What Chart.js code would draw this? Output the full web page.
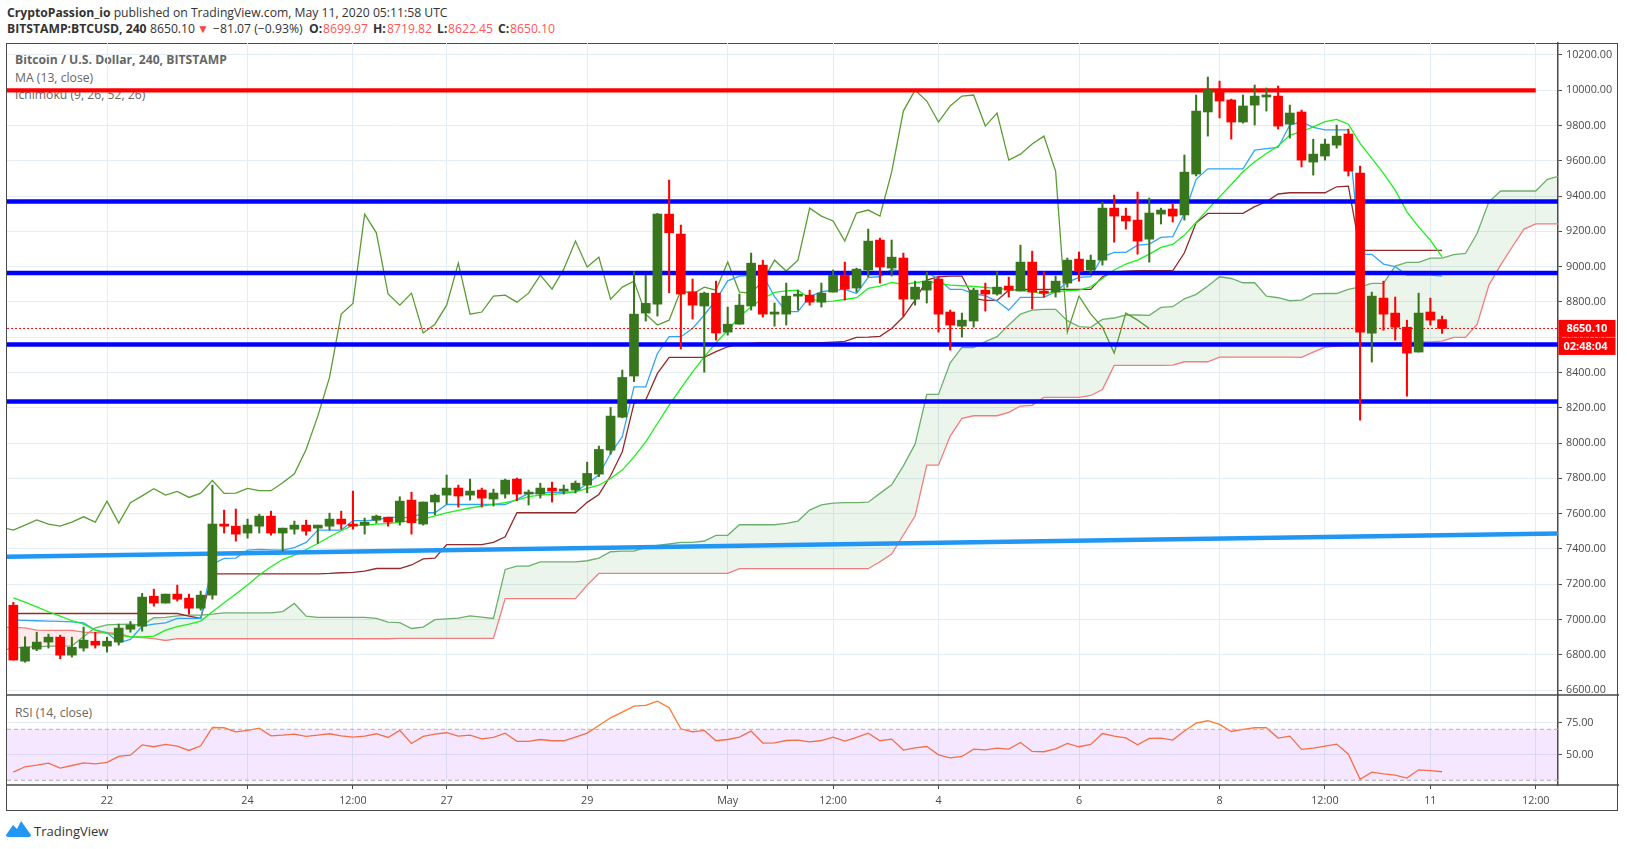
<!DOCTYPE html>
<html>
<head>
<meta charset="utf-8">
<title>BTCUSD 240</title>
<script src="https://cdn.jsdelivr.net/npm/chart.js@4"></script>
<style>
  html, body { margin: 0; padding: 0; background: #fff; width: 1627px; height: 849px; overflow: hidden; }
  body { font-family: "Open Sans", sans-serif; }
  canvas { position: absolute; left: 0; top: 0; z-index: 2; }
  .frame { position: absolute; left: 6px; top: 43px; width: 1610px; height: 766px; border: 1.5px solid #4a4a4a; }
  .t { position: absolute; white-space: nowrap; font-size: 12.2px; line-height: 16px; color: #333; }
  .b { font-weight: 700; }
  .r { color: #f55; }
  .g { color: #666; }
</style>
</head>
<body>
<div class="frame"></div>

<div class="t" style="left:7px;top:5px"><span class="b">CryptoPassion_io</span> published on TradingView.com, May 11, 2020 05:11:58 UTC</div>
<div class="t b" style="left:7px;top:21px">BITSTAMP:BTCUSD, 240</div>
<div class="t" style="left:150px;top:21px">8650.10</div>
<div class="t" style="left:197px;top:21px;color:#f44;font-size:12px">▼</div>
<div class="t" style="left:213px;top:21px">−81.07 (−0.93%)</div>
<div class="t b" style="left:309px;top:21px">O:</div><div class="t r" style="left:323px;top:21px">8699.97</div>
<div class="t b" style="left:373px;top:21px">H:</div><div class="t r" style="left:387px;top:21px">8719.82</div>
<div class="t b" style="left:437px;top:21px">L:</div><div class="t r" style="left:448px;top:21px">8622.45</div>
<div class="t b" style="left:498px;top:21px">C:</div><div class="t r" style="left:510px;top:21px">8650.10</div>

<div class="t b g" style="left:15px;top:52px">Bitcoin / U.S. Dollar, 240, BITSTAMP</div>
<div class="t g" style="left:15px;top:70px">MA (13, close)</div>
<div class="t g" style="left:15px;top:87px">Ichimoku (9, 26, 52, 26)</div>
<div class="t g" style="left:15px;top:705px">RSI (14, close)</div>

<svg style="position:absolute;left:6px;top:820px" width="26" height="18" viewBox="0 0 26 18">
  <path d="M0 15 L7 5 L11 9 L15 1 L25 15 Q25 17 23 17 L2 17 Q0 17 0 15 Z" fill="#2196f3"/>
</svg>
<div class="t" style="left:34px;top:823px;color:#333;font-size:13px">TradingView</div>

<canvas id="chart-price" width="1627" height="849"></canvas>
<canvas id="chart-rsi" width="1627" height="849"></canvas>

<script>
/* Candles, one per 4h bar, index = position on the time axis */
const candleOpen = [
  7081,6764,6832,6872,6900,6798,6838,6877,6849,6872,
  6945,6962,7132,7093,7144,7121,7064,7138,7541,7529,
  7490,7529,7586,7490,7512,7535,7518,7529,7569,7541,
  7535,7563,7580,7554,7677,7541,7666,7705,7745,7705,
  7734,7683,7711,7796,7711,7711,7745,7728,7734,7762,
  7824,7960,8147,8380,8737,8788,9298,9185,8858,8777,
  8850,8629,8674,8777,9009,8731,8731,8833,8839,8799,
  8856,8952,8879,8981,9151,8992,9049,8816,8867,8930,
  8743,8663,8692,8867,8845,8890,8862,9026,8862,8856,
  8907,9043,8981,9037,9332,9287,9264,9156,9298,9327,
  9293,9525,9877,9990,9945,9820,9916,9962,9967,9808,
  9877,9593,9627,9689,9752,9531,8623,8822,8737,8657,
  8516,8743,8700];
const candleClose = [
  6770,6843,6872,6900,6798,6843,6883,6855,6877,6951,
  6968,7127,7093,7144,7115,7064,7138,7541,7529,7484,
  7535,7586,7490,7518,7535,7501,7535,7569,7541,7529,
  7552,7586,7552,7671,7548,7666,7705,7745,7700,7728,
  7688,7717,7790,7711,7722,7745,7728,7734,7773,7828,
  7964,8153,8372,8731,8792,9298,9192,8845,8782,8850,
  8624,8674,8782,9020,8731,8743,8833,8839,8799,8850,
  8952,8873,8986,9145,8998,9054,8816,8884,8918,8731,
  8669,8697,8867,8845,8884,8867,9026,8856,8850,8918,
  9037,8975,9037,9332,9287,9259,9145,9304,9321,9287,
  9536,9882,10001,9939,9820,9911,9967,9973,9797,9871,
  9604,9638,9695,9740,9542,8629,8833,8731,8657,8510,
  8737,8697,8650];
const candleHigh = [
  7097,6902,6928,6917,6911,6900,6957,6928,6900,6974,
  6989,7148,7172,7144,7195,7144,7161,7762,7620,7626,
  7569,7597,7614,7518,7558,7563,7535,7603,7614,7728,
  7575,7592,7580,7696,7722,7666,7711,7819,7762,7796,
  7745,7739,7796,7802,7734,7773,7779,7762,7785,7892,
  7983,8202,8414,8971,8952,9302,9491,9236,8930,8856,
  8918,8771,8845,9077,9037,8794,8907,8867,8867,8907,
  8981,9026,8992,9213,9162,9151,9077,8918,8969,8943,
  8754,8737,8879,8907,8971,8941,9122,9088,8971,8947,
  9049,9083,9066,9366,9406,9332,9423,9389,9332,9355,
  9633,9973,10075,10052,9950,9973,10030,10013,10024,9916,
  9888,9723,9723,9803,9780,9570,8856,8918,8828,8697,
  8850,8822,8720];
const candleLow = [
  6770,6758,6823,6838,6777,6787,6821,6838,6815,6855,
  6928,6934,7076,7093,7104,7030,7053,7115,7490,7444,
  7461,7490,7478,7388,7484,7478,7431,7507,7512,7512,
  7484,7546,7529,7535,7484,7535,7594,7654,7637,7677,
  7637,7643,7688,7673,7649,7688,7666,7711,7717,7718,
  7810,7937,8143,8348,8692,8720,8852,8533,8703,8402,
  8584,8612,8674,8754,8714,8663,8669,8754,8782,8771,
  8856,8811,8856,8943,8907,8947,8720,8782,8794,8629,
  8527,8601,8657,8748,8839,8828,8862,8760,8828,8828,
  8884,8918,8964,9009,9139,9213,9071,9026,9242,9253,
  9264,9514,9740,9843,9723,9814,9803,9882,9780,9729,
  9565,9519,9604,9672,9514,8130,8459,8640,8584,8266,
  8516,8669,8622];

/* MA 13, from the first candle */
const maValues = [
  7123,7098,7072,7044,7019,6993,6974,6940,6921,6911,
  6902,6902,6906,6940,6959,6974,6991,7044,7095,7144,
  7195,7252,7299,7340,7365,7397,7431,7469,7503,7533,
  7535,7541,7544,7552,7560,7569,7588,7605,7618,7632,
  7643,7652,7662,7677,7696,7705,7709,7715,7724,7743,
  7761,7799,7847,7922,8007,8111,8215,8310,8404,8489,
  8569,8640,8716,8773,8820,8854,8863,8867,8820,8801,
  8805,8814,8824,8877,8890,8911,8899,8909,8920,8905,
  8896,8892,8888,8882,8877,8871,8867,8858,8845,8858,
  8864,8867,8886,8933,8981,9015,9037,9071,9109,9126,
  9179,9251,9325,9396,9466,9538,9595,9642,9684,9746,
  9765,9793,9822,9835,9808,9699,9614,9529,9434,9311,
  9226,9151,9055];

/* Ichimoku conversion and base lines, from the first candle */
const conversionLine = [
  6996,6995,6993,6991,6989,6987,6981,6940,6926,6868,
  6887,6962,6974,6981,7006,7006,7006,7314,7346,7348,
  7393,7397,7395,7393,7408,7437,7507,7507,7507,7560,
  7560,7563,7579,7579,7577,7605,7605,7652,7652,7652,
  7652,7652,7652,7681,7715,7718,7720,7722,7724,7770,
  7820,7941,8036,8319,8319,8508,8603,8603,8650,8726,
  8811,8920,8947,8952,8952,8830,8745,8745,8830,8858,
  8867,8871,8848,8939,8943,8984,8971,8971,8971,8928,
  8871,8871,8848,8835,8805,8754,8826,8826,8826,8858,
  8911,8939,8943,9056,9081,9081,9122,9128,9166,9170,
  9302,9495,9555,9555,9555,9555,9661,9669,9676,9803,
  9822,9790,9775,9775,9775,9070,9070,9015,9000,8952,
  8952,8952,8947];
const baseLine = [
  7034,7034,7034,7034,7034,7034,7034,7034,7034,7034,
  7034,7034,7034,7034,7034,7019,7006,7259,7259,7259,
  7259,7259,7259,7259,7259,7259,7259,7261,7265,7267,
  7274,7289,7289,7289,7309,7344,7348,7424,7424,7424,
  7424,7437,7469,7605,7605,7605,7605,7605,7605,7664,
  7709,7815,7951,8225,8244,8395,8486,8486,8486,8486,
  8518,8546,8561,8565,8569,8569,8569,8569,8569,8569,
  8572,8576,8599,8601,8605,8650,8716,8811,8924,8943,
  8947,8947,8820,8809,8809,8867,8871,8871,8871,8871,
  8871,8871,8871,8943,8971,8975,8977,8977,8977,8977,
  9079,9249,9302,9302,9302,9302,9340,9368,9412,9419,
  9419,9419,9419,9453,9457,9092,9092,9092,9092,9092,
  9092,9092,9092];

/* These three start one bar left of the first candle (index -1) */
const laggingSpan = [
  7522,
  7507,7535,7565,7541,7529,7552,7582,7552,7671,7546,
  7662,7701,7741,7705,7726,7692,7716,7788,7715,7716,
  7743,7730,7730,7775,7826,7964,8153,8372,8731,8792,
  9298,9192,8845,8782,8850,8624,8674,8782,9020,8731,
  8743,8833,8839,8799,8850,8952,8873,8986,9145,8998,
  9054,8816,8884,8918,8731,8669,8697,8867,8845,8884,
  8867,9026,8856,8850,8918,9037,8975,9037,9332,9287,
  9259,9145,9304,9321,9287,9536,9882,10001,9939,9820,
  9911,9967,9973,9797,9871,9604,9638,9695,9740,9542,
  8629,8833,8731,8657,8510,8737,8697,8650];
const leadingSpanA = [
  6826,
  6836,6845,6845,6849,6849,6851,6902,6953,6970,6972,
  6974,6968,7010,7012,7021,7025,7025,7030,7038,7038,
  7038,7038,7038,7045,7091,7019,7012,7012,7012,7012,
  7012,7006,6985,6982,6949,6957,6999,7004,7008,7021,
  7014,7006,7284,7303,7303,7327,7327,7327,7327,7333,
  7348,7384,7388,7388,7409,7420,7428,7437,7437,7445,
  7477,7477,7537,7537,7537,7537,7545,7558,7620,7650,
  7660,7662,7662,7665,7715,7764,7871,7994,8276,8276,
  8455,8542,8542,8575,8603,8669,8731,8754,8758,8758,
  8694,8660,8656,8701,8709,8726,8726,8724,8769,8773,
  8818,8843,8890,8943,8933,8909,8909,8833,8824,8807,
  8811,8846,8848,8848,8871,8886,8905,8905,9003,9024,
  9024,9049,9049,9068,9075,9189,9368,9429,9429,9429,
  9429,9495,9514];
const leadingSpanB = [
  6955,
  6955,6953,6940,6938,6938,6938,6928,6925,6925,6921,
  6902,6898,6891,6881,6891,6891,6891,6891,6891,6891,
  6891,6891,6891,6891,6891,6891,6891,6891,6891,6891,
  6891,6891,6891,6893,6893,6893,6893,6893,6893,6893,
  6893,6893,7118,7118,7118,7118,7118,7118,7118,7195,
  7261,7261,7261,7261,7261,7261,7261,7261,7261,7261,
  7261,7261,7288,7288,7288,7288,7288,7288,7288,7288,
  7288,7288,7288,7288,7327,7371,7479,7586,7875,7875,
  8040,8140,8155,8155,8155,8174,8210,8214,8259,8259,
  8259,8259,8270,8304,8440,8440,8440,8440,8440,8442,
  8461,8461,8461,8487,8487,8487,8487,8487,8487,8487,
  8486,8516,8544,8550,8555,8561,8563,8565,8567,8570,
  8574,8574,8578,8599,8599,8674,8896,9009,9113,9213,
  9243,9243,9243];

/* RSI 14, from the first candle */
const rsiValues = [
  36.4,40.6,41.9,43.5,39.5,41.6,43.7,42.9,44.0,48.7,
  49.7,57.8,56.3,58.1,56.8,53.4,57.1,71.4,71.2,68.0,
  69.1,70.9,64.9,65.4,66.2,64.4,65.4,66.5,64.9,63.9,
  64.6,66.5,63.6,69.1,58.9,64.4,66.2,67.3,64.6,65.4,
  62.5,63.6,67.0,60.5,60.5,62.0,61.0,61.0,63.9,67.0,
  73.0,79.0,83.5,88.2,88.7,92.1,86.9,70.4,68.0,69.1,
  61.0,62.0,63.9,68.6,59.2,59.4,61.2,61.5,60.2,61.2,
  63.9,60.7,63.6,67.0,61.0,62.3,53.7,55.5,56.5,50.0,
  47.6,48.7,54.4,53.9,55.2,54.4,59.7,52.6,52.4,54.7,
  58.9,56.3,58.1,66.7,64.6,63.3,57.8,62.8,63.1,61.5,
  68.6,74.8,76.7,73.8,68.3,69.9,71.2,71.2,63.1,64.6,
  54.2,55.2,56.8,58.4,50.5,30.7,36.4,35.1,34.1,31.7,
  38.2,37.5,36.7];

/* Drawn levels */
const resistanceLevel = 10000;
const supportLevels = [9370, 8964, 8559, 8236];
const trendStart = 7356;
const trendEnd = 7488;
const lastPrice = 8650;

/* Axes */
const timeTickIndex = [8, 20, 29, 37, 49, 61, 70, 79, 91, 103, 112, 121, 130];
const timeTickLabels = ['22', '24', '12:00', '27', '29', 'May', '12:00', '4', '6', '8', '12:00', '11', '12:00'];
const priceTicks = [6600,6800,7000,7200,7400,7600,7800,8000,8200,8400,8600,8800,9000,9200,9400,9600,9800,10000,10200];
const rsiTicks = [50, 75];
const rsiBandTop = 70;
const rsiBandBottom = 30;

const X_MIN = -0.54, X_MAX = 131.9;
const GRID = '#e3edf3';
const AXIS = '#4a4a4a';
const FONT = { family: '"Open Sans", sans-serif', size: 10.8 };

const toPoints = (values, from) => values.map((y, i) => ({ x: i + from, y }));
const flat = (value) => [{ x: X_MIN, y: value }, { x: X_MAX, y: value }];

const line = (data, color, width, extra) => ({
  type: 'line', data, borderColor: color, borderWidth: width,
  pointRadius: 0, tension: 0, fill: false, ...extra,
});

const xScale = (showLabels) => ({
  type: 'linear', min: X_MIN, max: X_MAX, offset: false,
  grid: { color: GRID, lineWidth: 1, offset: false, drawTicks: showLabels, tickLength: 4, tickColor: AXIS },
  border: { display: false },
  afterBuildTicks: (scale) => { scale.ticks = timeTickIndex.map(value => ({ value })); },
  afterFit: (scale) => { scale.height = showLabels ? 27 : 0; },
  ticks: {
    display: showLabels, autoSkip: false, maxRotation: 0, minRotation: 0, padding: 5,
    color: AXIS, font: FONT,
    callback: (value) => timeTickLabels[timeTickIndex.indexOf(value)],
  },
});

const yScale = (min, max, tickList) => ({
  position: 'right', min, max,
  grid: { color: GRID, lineWidth: 1, tickLength: 4, tickColor: AXIS },
  border: { display: true, color: AXIS, width: 1.5 },
  afterBuildTicks: (scale) => { scale.ticks = tickList.map(value => ({ value })); },
  afterFit: (scale) => { scale.width = 61; },
  ticks: {
    padding: 4, color: AXIS, font: FONT, autoSkip: false,
    callback: (value) => value.toFixed(2),
  },
});

const baseOptions = {
  responsive: false,
  animation: false,
  events: [],
  plugins: { legend: { display: false }, tooltip: { enabled: false } },
};

/* Price label boxes on the axis */
const priceBoxes = {
  id: 'priceBoxes',
  afterDraw(chart) {
    const { ctx, scales, chartArea } = chart;
    const py = scales.y.getPixelForValue(lastPrice);
    const left = chartArea.right + 0.5;
    ctx.save();
    ctx.fillStyle = '#ff0000';
    ctx.fillRect(left, py - 8.5, 57, 17);
    ctx.fillRect(left, py + 9, 57, 17.5);
    ctx.fillStyle = '#fff';
    ctx.font = 'bold 11px "Open Sans", sans-serif';
    ctx.textBaseline = 'middle';
    ctx.fillText('8650.10', left + 8, py);
    ctx.fillText('02:48:04', left + 5, py + 18);
    ctx.restore();
  },
};

const candleColors = candleClose.map((c, i) => (c >= candleOpen[i] ? '#38761d' : '#ff0000'));

/* Lower order draws on top, candles last */
new Chart(document.getElementById('chart-price'), {
  type: 'line',
  data: {
    datasets: [
      line(toPoints(leadingSpanA, -1), '#6cb06c', 1.3, {
        fill: { target: 1, above: 'rgba(67,160,71,0.1)', below: 'rgba(255,60,60,0.1)' }, order: 20,
      }),
      line(toPoints(leadingSpanB, -1), '#f47c7c', 1.3, { order: 19 }),
      line(toPoints(laggingSpan, -1), '#5a9e32', 1.3, { order: 18 }),
      line(toPoints(baseLine, 0), '#922b2b', 1.3, { order: 17 }),
      line(toPoints(conversionLine, 0), '#33a5f5', 1.3, { order: 16 }),
      line(toPoints(maValues, 0), '#1cf01c', 1.3, { order: 15 }),
      line(flat(lastPrice), '#ff0000', 1, { borderDash: [2, 2], order: 14 }),
      line([{ x: X_MIN, y: trendStart }, { x: X_MAX, y: trendEnd }], '#2196f3', 4.5, { order: 13 }),
      line([{ x: X_MIN, y: resistanceLevel }, { x: 130, y: resistanceLevel }], '#ff0000', 4.2, { order: 12 }),
      ...supportLevels.map((level) => line(flat(level), '#0000ff', 4.5, { order: 11 })),
      {
        type: 'bar', order: 2, grouped: false, barThickness: 1.4, minBarLength: 1,
        data: candleHigh.map((h, i) => ({ x: i, y: [candleLow[i], h] })),
        backgroundColor: candleColors,
      },
      {
        type: 'bar', order: 1, grouped: false, barThickness: 9, minBarLength: 2,
        data: candleOpen.map((o, i) => ({ x: i, y: [o, candleClose[i]] })),
        backgroundColor: candleColors,
      },
    ],
  },
  options: {
    ...baseOptions,
    layout: { padding: { left: 7, top: 43, right: 8, bottom: 154 } },
    scales: { x: xScale(false), y: yScale(6572, 10268, priceTicks) },
  },
  plugins: [priceBoxes],
});

new Chart(document.getElementById('chart-rsi'), {
  type: 'line',
  data: {
    datasets: [
      line(flat(rsiBandTop), '#b9acbe', 1, {
        borderDash: [4, 3], fill: '+1', backgroundColor: 'rgba(153,21,255,0.1)',
      }),
      line(flat(rsiBandBottom), '#b9acbe', 1, { borderDash: [4, 3] }),
      line(toPoints(rsiValues, 0), '#ff7a30', 1.3),
    ],
  },
  options: {
    ...baseOptions,
    layout: { padding: { left: 7, top: 695, right: 8, bottom: 37 } },
    scales: { x: xScale(true), y: yScale(26.3, 96.9, rsiTicks) },
  },
  plugins: [{
    /* Line between the panes and under the RSI pane */
    id: 'paneLines',
    afterDraw(chart) {
      const { ctx, chartArea } = chart;
      ctx.save();
      ctx.strokeStyle = AXIS;
      ctx.lineWidth = 1.5;
      ctx.beginPath();
      ctx.moveTo(7, chartArea.top); ctx.lineTo(1619, chartArea.top);
      ctx.moveTo(7, chartArea.bottom); ctx.lineTo(1619, chartArea.bottom);
      ctx.stroke();
      ctx.restore();
    },
  }],
});
</script>
</body>
</html>
